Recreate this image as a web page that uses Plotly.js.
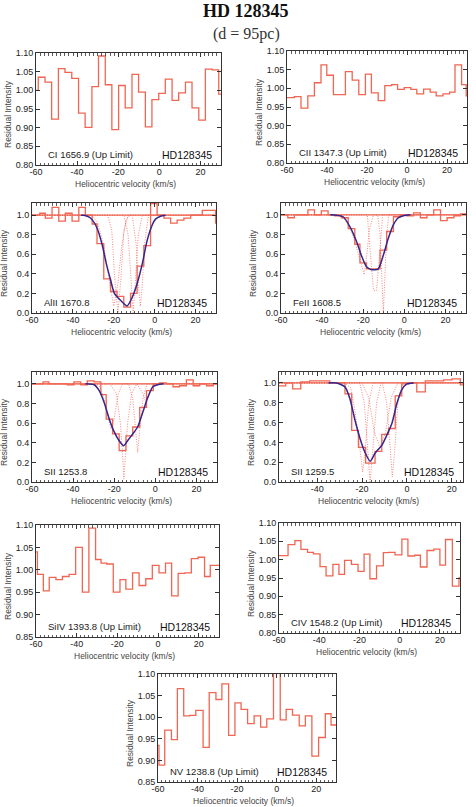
<!DOCTYPE html>
<html><head><meta charset="utf-8">
<script src="https://cdn.plot.ly/plotly-3.0.1.min.js"></script>
<style>html,body{margin:0;padding:0;background:#fff}#chart{width:476px;height:807px}</style>
</head><body><div id="chart"></div>
<script>
// ---------- DATA ----------
const xTickVals = [-60, -40, -20, 0, 20];
const xTickText = ['-60', '-40', '-20', '0', '20'];

// CI 1656.9 (bin left edges, residual intensity)
const ciV = [-60,-58.9,-55.6,-52.4,-49.1,-45.9,-42.6,-39.3,-36.1,-32.8,-29.6,-26.3,-23.1,-19.8,-16.6,-13.3,-10.1,-6.8,-3.6,-0.3,2.9,6.2,9.4,12.7,15.9,19.2,22.4,25.7,28.9,30];
const ciI = [1.00,1.035,1.022,0.923,1.058,1.048,1.032,0.939,0.901,1.010,1.092,1.015,0.895,1.013,0.953,1.043,0.995,0.902,0.975,0.992,1.030,0.973,0.993,1.022,0.953,0.920,1.057,1.055,0.990,0.990];

// CII 1347.3
const ciiV = [-60,-56.3,-53.0,-49.6,-46.3,-43.0,-40.1,-36.8,-33.8,-30.8,-27.4,-24.1,-20.8,-17.8,-14.4,-11.1,-7.7,-4.7,-1.4,1.9,4.9,8.3,11.6,14.6,18.0,21.3,24.0,27.3,29.6,30];
const ciiI = [0.975,0.978,0.947,0.980,1.015,1.063,1.035,0.983,0.983,1.045,1.022,0.983,1.038,0.988,0.967,1.007,1.010,0.997,1.002,0.997,0.985,0.998,0.990,0.980,0.985,0.990,1.063,1.010,0.980,0.980];

// AlII 1670.8
const alV = [-60,-56.2,-53.5,-50.2,-46.9,-43.7,-40.4,-37.1,-33.9,-30.6,-28.2,-24.9,-21.6,-18.4,-15.1,-11.8,-8.6,-5.3,-2.0,1.2,4.5,7.8,11.0,14.3,17.6,23.3,29.8,30];
const alI = [1.00,1.02,0.97,1.08,0.94,1.02,0.94,1.08,1.00,0.91,0.71,0.35,0.22,0.17,0.06,0.20,0.48,0.69,1.12,1.00,0.97,0.92,0.95,0.97,1.00,1.05,0.92,0.92];
const alFitV = [-36,-34.7,-32,-30.6,-28.2,-25.7,-23.6,-21.6,-19.7,-16.7,-13.5,-11.0,-8.6,-6.1,-3.7,-1.2,0.4,2.9,5.3];
const alFitI = [1.0,1.0,0.98,0.955,0.87,0.70,0.50,0.34,0.20,0.13,0.072,0.16,0.30,0.50,0.74,0.90,0.96,0.99,1.0];
const alCompV = [
  [-60,-31,-28,-25,-22,-20,-18,-16,-14,-12,30],
  [-60,-23,-21,-19.5,-18,-16.5,-15,-13,30],
  [-60,-15,-13,-11.5,-10.5,-9.5,-8,-6,30],
  [-60,-11,-9,-8,-7,-6,-5,-3,30]];
const alCompI = [
  [1,1.0,0.93,0.70,0.30,0.07,0.30,0.70,0.95,1.0,1],
  [1,1.0,0.85,0.35,0.0,0.35,0.85,1.0,1],
  [1,1.0,0.80,0.30,0.0,0.30,0.80,1.0,1],
  [1,1.0,0.70,0.30,0.07,0.30,0.70,1.0,1]];

// FeII 1608.5
const feV = [-60,-56.7,-53.5,-46.9,-43.7,-40.4,-37.1,-33.9,-30.6,-27.3,-24.1,-21.6,-18.4,-11.8,-8.6,-5.3,-2.0,1.2,4.5,7.8,11.0,14.3,17.6,20.8,24.1,27.3,30];
const feI = [1.00,0.97,1.00,1.05,1.00,1.04,1.00,0.99,0.97,0.86,0.70,0.51,0.45,0.64,0.83,0.98,1.00,0.99,1.02,0.97,1.00,1.05,0.94,0.97,0.99,1.01,1.01];
const feFitV = [-36,-33,-29.8,-26.5,-23.3,-20.8,-18.4,-15.9,-12.7,-10.2,-7.8,-5.3,-2.9,-0.4,3];
const feFitI = [1.0,0.995,0.98,0.88,0.73,0.58,0.47,0.44,0.45,0.59,0.76,0.90,0.97,0.99,1.0];
const feCompV = [
  [-60,-32,-29,-26,-23,-21,-19.5,-18.5,-17,-15,30],
  [-60,-18,-16.5,-15,-13.5,-12,-10.5,30],
  [-60,-13,-11.8,-10.8,-10.2,-9.6,-8.6,-7.5,30]];
const feCompI = [
  [1,1.0,0.95,0.85,0.65,0.50,0.39,0.55,0.85,1.0,1],
  [1,1.0,0.60,0.23,0.23,0.60,1.0,1],
  [1,1.0,0.80,0.30,0.0,0.30,0.80,1.0,1]];

// SII 1253.8
const s1V = [-60,-54.6,-51.8,-42.9,-39.6,-36.3,-33.1,-29.8,-26.5,-23.9,-20.8,-17.6,-14.3,-11.0,-7.6,-4.3,-1.0,2.0,5.3,8.6,11.8,15.1,18.4,21.6,24.9,28.2,30];
const s1I = [1.00,1.02,1.00,0.99,1.02,0.99,1.03,1.02,0.89,0.64,0.49,0.32,0.47,0.56,0.76,0.93,1.00,1.01,1.00,0.97,0.98,1.04,0.98,1.00,0.98,1.00,1.00];
const s1FitV = [-34,-29.8,-27.3,-24.9,-22.4,-20,-17.6,-15.4,-13.5,-11,-8.6,-6.1,-3.7,-1.2,1.2,4];
const s1FitI = [1.0,0.99,0.93,0.81,0.64,0.51,0.42,0.37,0.42,0.49,0.56,0.71,0.86,0.97,0.99,1.0];
const s1CompV = [
  [-60,-30,-27,-25,-23,-21.5,-20,-18,-16,30],
  [-60,-22,-19,-17,-16,-15.3,-14.5,-13.5,-11.5,-9,30],
  [-60,-13,-11,-9.7,-8.6,-7.5,-6,-4,30],
  [-60,-9,-6,-4.5,-3,-1,30]];
const s1CompI = [
  [1,1.0,0.97,0.85,0.65,0.54,0.65,0.90,1.0,1],
  [1,1.0,0.90,0.60,0.30,0.03,0.30,0.60,0.90,1.0,1],
  [1,1.0,0.85,0.55,0.30,0.55,0.85,1.0,1],
  [1,1.0,0.90,0.80,0.90,1.0,1]];

// SII 1259.5
const s2V = [-57,-54.0,-50.9,-47.3,-43.3,-34.3,-30.6,-27.6,-24.6,-21.6,-18.4,-14.2,-11.2,-8.2,-5.2,-2.3,0.7,4.4,8.2,11.9,16.4,20.1,23.8,25];
const s2I = [0.97,1.00,0.94,1.01,1.02,1.00,1.00,0.89,0.52,0.35,0.19,0.31,0.48,0.54,0.87,0.99,1.00,0.91,1.02,1.02,1.03,1.04,0.98,0.98];
const s2FitV = [-35,-31.4,-27.6,-25.4,-23.1,-20.9,-18.7,-16.4,-14.2,-11.2,-9.0,-6.7,-4.5,-2.3,0,3];
const s2FitI = [1.0,1.0,0.96,0.84,0.62,0.44,0.30,0.21,0.29,0.37,0.47,0.59,0.79,0.93,0.99,1.0];
const s2CompV = [
  [-57,-28,-25,-23,-21,-19.7,-18.5,-17,-15,25],
  [-57,-21,-19,-17.5,-16.4,-15.3,-13.5,-11.5,25],
  [-57,-11,-9,-7.5,-6.5,-5.5,-4,-2,25],
  [-57,-20,-17,-14.5,-12,-9.5,-7,-4,25]];
const s2CompI = [
  [1,1.0,0.95,0.70,0.35,0.10,0.35,0.80,1.0,1],
  [1,1.0,0.80,0.30,0.0,0.30,0.80,1.0,1],
  [1,1.0,0.80,0.30,0.05,0.30,0.80,1.0,1],
  [1,1.0,0.85,0.50,0.35,0.50,0.85,1.0,1]];

// SiIV 1393.8
const siV = [-60,-59.3,-56.4,-53.5,-50.2,-47.0,-43.7,-40.5,-37.2,-34.0,-30.7,-28.0,-25.2,-22.0,-18.7,-15.8,-12.5,-9.3,-6.0,-2.8,0.5,3.7,6.7,9.9,13.2,16.4,19.7,22.9,25.7,28.5,30];
const siI = [1.04,0.99,0.953,0.983,0.978,0.985,0.99,1.05,0.95,1.093,1.023,1.015,1.013,0.95,0.978,0.957,0.993,0.965,0.98,1.01,0.993,1.015,0.942,0.992,0.993,1.025,1.028,0.985,1.01,1.01,1.01];

// CIV 1548.2
const civV = [-60,-55.5,-52.1,-49.1,-45.8,-42.9,-39.6,-36.6,-33.2,-30.2,-27.4,-24.0,-20.7,-17.7,-14.8,-11.5,-8.1,-5.6,-2.3,1.1,4.1,7.4,10.3,13.6,17.0,20.0,22.8,26.2,29.5,30];
const civI = [1.011,1.041,1.052,1.028,1.020,1.016,0.981,0.956,0.987,0.960,0.998,0.987,0.968,1.015,0.948,0.983,1.019,1.020,1.013,1.056,1.010,1.012,0.980,1.025,1.029,0.985,1.055,0.928,0.950,0.950];

// NV 1238.8
const nvV = [-60,-59.5,-56.6,-53.2,-50.2,-47.0,-43.9,-40.9,-37.2,-34.1,-30.7,-27.7,-24.3,-21.1,-18.0,-14.7,-11.4,-8.1,-5.0,-1.6,1.8,4.8,8.0,11.4,14.5,17.8,21.2,24.6,27.5,30];
const nvI = [0.935,0.889,0.970,0.948,1.066,1.003,1.004,1.016,0.930,1.057,1.041,1.077,0.958,1.033,1.018,0.985,1.003,0.977,0.996,1.12,0.994,1.018,1.005,0.980,1.003,0.910,0.953,1.008,0.982,0.982];

const starName = 'HD128345';
const lineLabels = ['CI 1656.9 (Up Limit)','CII 1347.3 (Up Limit)','AlII 1670.8','FeII 1608.5','SII 1253.8','SII 1259.5','SiIV 1393.8 (Up Limit)','CIV 1548.2 (Up Limit)','NV 1238.8 (Up Limit)'];

// ---------- LAYOUT / STYLE ----------
const W = 476, H = 807;
const HIST = 'rgb(240,102,82)', FIT = 'rgb(52,38,140)', COMP = 'rgba(240,100,90,0.85)';
const panels = [
  {box:[36,221,53,165],   xr:[-60,30], yr:[0.80,1.10], dt:0.05, fmt:'.2f', h:[ciV,ciI]},
  {box:[287,467,51,163],  xr:[-60,30], yr:[0.80,1.10], dt:0.05, fmt:'.2f', h:[ciiV,ciiI]},
  {box:[32,216,203,313],  xr:[-60,30], yr:[0,1.125], dt:0.2, fmt:'.1f', h:[alV,alI], fit:[alFitV,alFitI], comp:[alCompV,alCompI]},
  {box:[281,466,203,313], xr:[-60,30], yr:[0,1.12], dt:0.2, fmt:'.1f', h:[feV,feI], fit:[feFitV,feFitI], comp:[feCompV,feCompI]},
  {box:[32,217,372,482],  xr:[-60,30], yr:[0,1.12], dt:0.2, fmt:'.1f', h:[s1V,s1I], fit:[s1FitV,s1FitI], comp:[s1CompV,s1CompI]},
  {box:[279,463,372,482], xr:[-57,25], yr:[0,1.11], dt:0.2, fmt:'.1f', h:[s2V,s2I], fit:[s2FitV,s2FitI], comp:[s2CompV,s2CompI]},
  {box:[36,219,525,637],  xr:[-60,30], yr:[0.85,1.10], dt:0.05, fmt:'.2f', h:[siV,siI]},
  {box:[279,460,523,633], xr:[-60,30], yr:[0.80,1.10], dt:0.05, fmt:'.2f', h:[civV,civI]},
  {box:[158,336,674,782], xr:[-60,30], yr:[0.85,1.10], dt:0.05, fmt:'.2f', h:[nvV,nvI]}
];

const px = x => x / W, py = y => 1 - y / H;
const FONT = 'Liberation Sans, Arial, Helvetica, sans-serif';
const traces = [];
const ann = (o) => Object.assign({xref:'paper', yref:'paper', showarrow:false, xanchor:'center', yanchor:'middle'}, o);
const layout = {
  width: W, height: H, margin: {l:0, r:0, t:0, b:0},
  paper_bgcolor: '#fff', plot_bgcolor: '#fff', showlegend: false,
  font: {family: FONT, size: 9, color: '#222'},
  annotations: [
    ann({text: '<b>HD 128345</b>', x: px(246), y: py(11),
     font:{family:'Liberation Serif, Times New Roman, serif', size:18, color:'#111'}}),
    ann({text: '(d = 95pc)', x: px(246), y: py(34),
     font:{family:'Liberation Serif, Times New Roman, serif', size:16, color:'#333'}})
  ]
};

panels.forEach((p, k) => {
  const n = k === 0 ? '' : String(k + 1);
  const xa = 'x' + n, ya = 'y' + n;
  const [l, r, t, b] = p.box;
  const axCommon = {showline:true, mirror:'ticks', linecolor:'#333', linewidth:1, ticks:'inside',
    tickcolor:'#333', tickwidth:1, ticklen:4, showgrid:false, zeroline:false,
    tickfont:{family:FONT, size:9, color:'#222'}};
  layout['xaxis' + n] = Object.assign({}, axCommon, {
    domain:[px(l), px(r)], anchor: ya, range: p.xr, tickmode:'array', tickvals:xTickVals, ticktext:xTickText,
    ticklabelstandoff: -2,
    minor:{tickmode:'linear', tick0:0, dtick:2, ticks:'inside', ticklen:2.5, tickcolor:'#333', tickwidth:0.8, showgrid:false}
  });
  layout['yaxis' + n] = Object.assign({}, axCommon, {
    domain:[py(b), py(t)], anchor: xa, range: p.yr, tickmode:'linear', tick0:0, dtick:p.dt, tickformat:p.fmt
  });
  // components (dotted)
  if (p.comp) {
    p.comp[0].forEach((cv, j) => traces.push({x: cv, y: p.comp[1][j], xaxis:xa, yaxis:ya, mode:'lines',
      line:{color:COMP, width:0.9, dash:'1px,1.5px'}, hoverinfo:'skip'}));
    traces.push({x: p.xr, y: [1, 1], xaxis:xa, yaxis:ya, mode:'lines', line:{color:HIST, width:1.3}, hoverinfo:'skip'});
  }
  // data histogram
  traces.push({x: p.h[0], y: p.h[1], xaxis:xa, yaxis:ya, mode:'lines', line:{color:HIST, width:1.3, shape:'hv'}});
  // fit
  if (p.fit) traces.push({x: p.fit[0], y: p.fit[1], xaxis:xa, yaxis:ya, mode:'lines', line:{color:FIT, width:1.5, shape:'spline', smoothing:0.6}});
  // labels
  layout.annotations.push(
    ann({text: lineLabels[k], x: px(l + 10), y: py(b - 10.5), xanchor:'left',
     font:{family:FONT, size:9.5, color:'#222'}}),
    ann({text: starName, x: px(r - 7.5), y: py(b - 10.5), xanchor:'right',
     font:{family:FONT, size:10.5, color:'#111'}}),
    ann({text: 'Heliocentric velocity (km/s)', x: px((l + r) / 2 - 3), y: py(b + 19),
     font:{family:FONT, size:8.5, color:'#444'}}),
    ann({text: 'Residual Intensity', x: px(l - 28), y: py((t + b) / 2 + 5), textangle:-90,
     font:{family:FONT, size:8.5, color:'#444'}})
  );
});

Plotly.newPlot('chart', traces, layout, {staticPlot:true, displayModeBar:false});
</script></body></html>
